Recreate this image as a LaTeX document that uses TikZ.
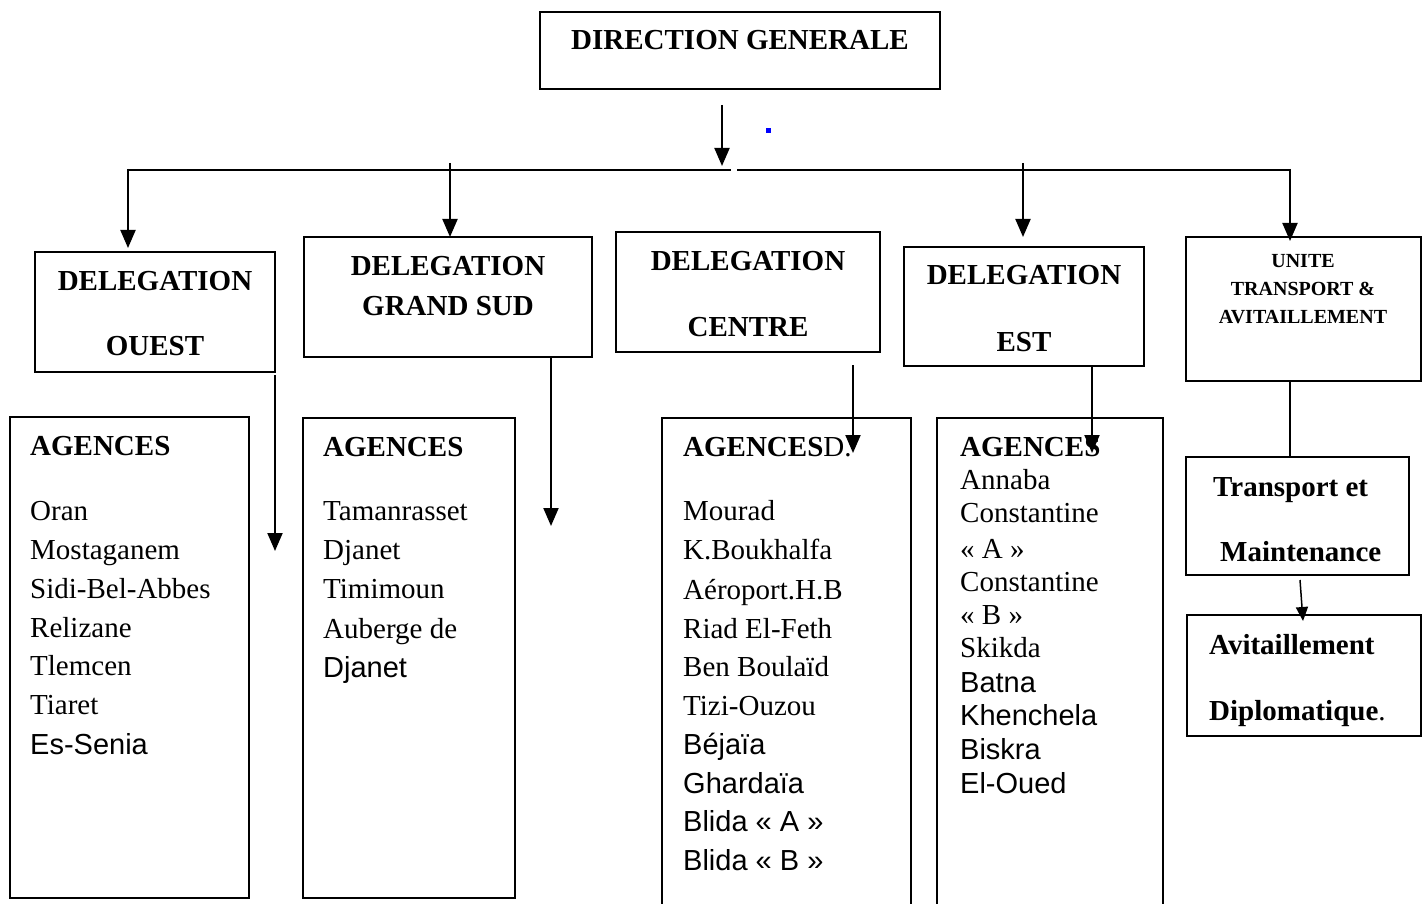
\documentclass[tikz,border=0pt]{standalone}
\usepackage{fontspec}
\setmainfont{Liberation Serif}
\newfontfamily\arialf{Liberation Sans}
\usetikzlibrary{arrows.meta}
\begin{document}
\begin{tikzpicture}[x=1pt,y=-1pt,
  box/.style={draw,line width=1.7pt,inner sep=0pt},
  hd/.style={inner sep=0pt,anchor=base,font=\fontsize{29}{34}\selectfont\bfseries},
  hdl/.style={inner sep=0pt,anchor=base west,font=\fontsize{29}{34}\selectfont\bfseries},
  sm/.style={inner sep=0pt,anchor=base,font=\fontsize{20}{24}\selectfont\bfseries},
  item/.style={inner sep=0pt,anchor=base west,font=\fontsize{29}{34}\selectfont},
  aitem/.style={inner sep=0pt,anchor=base west,font=\fontsize{29}{34}\arialf},
  conn/.style={line width=2pt},
  arr/.style={line width=2pt,-{Triangle[width=15pt,length=18pt]}}]
\useasboundingbox (0,0) rectangle (1427,904);
% boxes
\node[box,minimum width=400pt,minimum height=77pt] (dg) at (740,50.5) {};
\node[box,minimum width=240pt,minimum height=120pt] (ouest) at (155,312) {};
\node[box,minimum width=288pt,minimum height=120pt] (sud) at (448,297) {};
\node[box,minimum width=264pt,minimum height=120pt] (centre) at (748,292) {};
\node[box,minimum width=240pt,minimum height=119pt] (est) at (1024,306.5) {};
\node[box,minimum width=235pt,minimum height=144pt] (unite) at (1303.5,309) {};
\node[box,minimum width=239pt,minimum height=481pt] (ag1) at (129.5,657.5) {};
\node[box,minimum width=212pt,minimum height=480pt] (ag2) at (409,658) {};
\node[box,minimum width=249pt,minimum height=500pt] (ag3) at (786.5,668) {};
\node[box,minimum width=226pt,minimum height=500pt] (ag4) at (1050,668) {};
\node[box,minimum width=223pt,minimum height=118pt] (transp) at (1297.5,516) {};
\node[box,minimum width=234pt,minimum height=121pt] (avit) at (1304,675.5) {};
% blue mark
\node[fill=blue,minimum size=5pt,inner sep=0pt] (dot) at (768,131) {};
% titles
\node[hd] (dg-t) at (740,50) {DIRECTION GENERALE};
\node[hd] (ouest-t1) at (155,290) {DELEGATION};
\node[hd] (ouest-t2) at (155,355) {OUEST};
\node[hd] (sud-t1) at (448,275) {DELEGATION};
\node[hd] (sud-t2) at (448,315) {GRAND SUD};
\node[hd] (centre-t1) at (748,270) {DELEGATION};
\node[hd] (centre-t2) at (748,336) {CENTRE};
\node[hd] (est-t1) at (1024,284) {DELEGATION};
\node[hd] (est-t2) at (1024,351) {EST};
\node[sm] (unite-t1) at (1303,267) {UNITE};
\node[sm] (unite-t2) at (1303,295) {TRANSPORT \&};
\node[sm] (unite-t3) at (1303,323) {AVITAILLEMENT};
\node[hdl] (transp-t1) at (1213,496) {Transport et};
\node[hdl] (transp-t2) at (1220,561) {Maintenance};
\node[hdl] (avit-t1) at (1209,654) {Avitaillement};
\node[hdl] (avit-t2) at (1209,720) {Diplomatique\textmd{.}};
% agency headings
\node[hdl] (ag1-h) at (30,455) {AGENCES};
\node[hdl] (ag2-h) at (323,456) {AGENCES};
\node[hdl] (ag3-h) at (683,456) {AGENCES\textmd{D.}};
\node[hdl] (ag4-h) at (960,456) {AGENCES};
% lists
\foreach \t/\y in {Oran/520,Mostaganem/559,Sidi-Bel-Abbes/598,Relizane/637,Tlemcen/675,Tiaret/714}
  \node[item] (ag1-\y) at (30,\y) {\t};
\node[aitem] (ag1-e) at (30,754) {Es-Senia};
\foreach \t/\y in {Tamanrasset/520,Djanet/559,Timimoun/598,Auberge de/638}
  \node[item] (ag2-\y) at (323,\y) {\t};
\node[aitem] (ag2-e) at (323,677) {Djanet};
\foreach \t/\y in {Mourad/520,K.Boukhalfa/559,Aéroport.H.B/599,Riad El-Feth/638,Ben Boulaïd/676,Tizi-Ouzou/715}
  \node[item] (ag3-\y) at (683,\y) {\t};
\foreach \t/\y in {Béjaïa/754,Ghardaïa/793,Blida « A »/831,Blida « B »/870}
  \node[aitem] (ag3-\y) at (683,\y) {\t};
\foreach \t/\y in {Annaba/489,Constantine/522,« A »/558,Constantine/591,« B »/624,Skikda/657}
  \node[item] (ag4-\y) at (960,\y) {\t};
\foreach \t/\y in {Batna/692,Khenchela/725,Biskra/759,El-Oued/793}
  \node[aitem] (ag4-\y) at (960,\y) {\t};
% connector coordinates
\coordinate (c0) at (722,105);
\coordinate (c0e) at (722,166);
\coordinate (hl) at (128,170);
\coordinate (hg1) at (731,170);
\coordinate (hg2) at (737,170);
\coordinate (hr) at (1290,170);
\coordinate (o1) at (275,375);
\coordinate (o2) at (275,551);
\coordinate (s1) at (551,357);
\coordinate (s2) at (551,526);
\coordinate (ce1) at (853,365);
\coordinate (ce2) at (853,453);
\coordinate (e1) at (1092,366);
\coordinate (e2) at (1092,453);
\coordinate (t1) at (1300,580);
\coordinate (t2) at (1303,621);
% connectors
\draw[arr] (c0) -- (c0e);
\draw[conn] (hl) -- (hg1);
\draw[conn] (hg2) -- (hr);
\draw[arr] (128,169) -- (128,248);
\draw[arr] (450,163) -- (450,237);
\draw[arr] (1023,163) -- (1023,237);
\draw[arr] (1290,169) -- (1290,241);
\draw[arr] (o1) -- (o2);
\draw[arr] (s1) -- (s2);
\draw[arr] (ce1) -- (ce2);
\draw[arr] (e1) -- (e2);
\draw[conn] (unite.south -| 1290,0) -- (transp.north -| 1290,0);
\draw[line width=1.5pt,-{Triangle[width=12pt,length=14pt]}] (t1) -- (t2);
\end{tikzpicture}
\end{document}
